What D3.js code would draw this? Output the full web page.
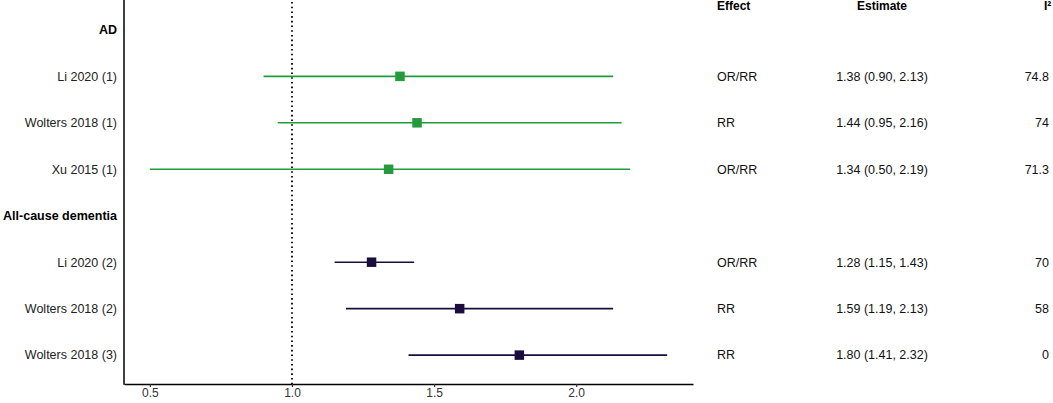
<!DOCTYPE html>
<html>
<head>
<meta charset="utf-8">
<script src="https://cdn.jsdelivr.net/npm/d3@7"></script>
<style>
  html, body { margin: 0; padding: 0; background: #fff; }
  svg { display: block; font-family: "Liberation Sans", Arial, sans-serif; }
</style>
</head>
<body>
<svg id="chart" width="1053" height="403"></svg>
<script>
// ---- data ----
const rowLabels = ["AD", "Li 2020 (1)", "Wolters 2018 (1)", "Xu 2015 (1)",
                   "All-cause dementia", "Li 2020 (2)", "Wolters 2018 (2)", "Wolters 2018 (3)"];
const headerRows = ["AD", "All-cause dementia"];
const studies = ["Li 2020 (1)", "Wolters 2018 (1)", "Xu 2015 (1)",
                 "Li 2020 (2)", "Wolters 2018 (2)", "Wolters 2018 (3)"];
const groups = ["AD", "AD", "AD", "All-cause", "All-cause", "All-cause"];
const estimates = [1.38, 1.44, 1.34, 1.28, 1.59, 1.80];
const lower = [0.90, 0.95, 0.50, 1.15, 1.19, 1.41];
const upper = [2.13, 2.16, 2.19, 1.43, 2.13, 2.32];
const effects = ["OR/RR", "RR", "OR/RR", "OR/RR", "RR", "RR"];
const i2 = ["74.8", "74", "71.3", "70", "58", "0"];
const xTicks = [0.5, 1.0, 1.5, 2.0];
const groupColors = { "AD": "#239b3d", "All-cause": "#1b0c3e" };

const rows = studies.map((s, i) => ({
  study: s, group: groups[i], est: estimates[i], lo: lower[i], hi: upper[i],
  effect: effects[i], i2: i2[i]
}));

const svg = d3.select("#chart");
const pLeft = 124, pRight = 693, pTop = 2, pBottom = 384;

const x = d3.scaleLinear().domain([0.409, 2.411]).range([pLeft, pRight]);
const y = d3.scalePoint().domain(rowLabels).range([pTop, pBottom - 1]).padding(0.6);

// dotted reference line
svg.append("line")
  .attr("x1", x(1)).attr("x2", x(1))
  .attr("y1", 2).attr("y2", pBottom)
  .attr("stroke", "#000").attr("stroke-width", 1.8)
  .attr("stroke-dasharray", "1.6,3.1");

// CI lines
svg.append("g").selectAll("line").data(rows).join("line")
  .attr("x1", d => x(d.lo)).attr("x2", d => x(d.hi))
  .attr("y1", d => y(d.study)).attr("y2", d => y(d.study))
  .attr("stroke", d => groupColors[d.group]).attr("stroke-width", 1.6);

// point markers
const ms = 9.5;
svg.append("g").selectAll("rect").data(rows).join("rect")
  .attr("x", d => x(d.est) - ms / 2).attr("y", d => y(d.study) - ms / 2)
  .attr("width", ms).attr("height", ms)
  .attr("fill", d => groupColors[d.group]);

// axes
const xAxis = svg.append("g").attr("transform", `translate(0,${pBottom})`)
  .call(d3.axisBottom(x).tickValues(xTicks).tickFormat(d3.format(".1f")).tickSize(3).tickSizeOuter(0));
xAxis.select(".domain").attr("stroke", "#000").attr("stroke-width", 1.5);
xAxis.selectAll(".tick line").attr("stroke", "#333").attr("stroke-width", 1.2);
xAxis.selectAll(".tick text").attr("font-size", 12).attr("fill", "#333")
  .attr("font-family", "Liberation Sans, Arial, sans-serif").attr("dy", "0.6em");

svg.append("line").attr("x1", pLeft).attr("x2", pLeft).attr("y1", 0).attr("y2", pBottom + 0.75)
  .attr("stroke", "#000").attr("stroke-width", 1.5);

// y labels
svg.append("g").selectAll("text").data(rowLabels).join("text")
  .attr("x", 117).attr("y", d => y(d)).attr("dy", "0.35em")
  .attr("text-anchor", "end").attr("font-size", 12.5)
  .attr("font-weight", d => headerRows.includes(d) ? "bold" : "normal")
  .attr("fill", d => headerRows.includes(d) ? "#000" : "#222")
  .text(d => d);

// table headers
const hdr = svg.append("g").attr("font-weight", "bold").attr("font-size", 12).attr("fill", "#000");
hdr.append("text").attr("x", 717).attr("y", 10).text("Effect");
hdr.append("text").attr("x", 882).attr("y", 10).attr("text-anchor", "middle").text("Estimate");
hdr.append("text").attr("x", 1044).attr("y", 10).text("I²");

// table body
const tb = svg.append("g").attr("font-size", 12.5).attr("fill", "#111");
tb.selectAll(".eff").data(rows).join("text").attr("class", "eff")
  .attr("x", 717).attr("y", d => y(d.study)).attr("dy", "0.35em").text(d => d.effect);
tb.selectAll(".est").data(rows).join("text").attr("class", "est")
  .attr("x", 882).attr("y", d => y(d.study)).attr("dy", "0.35em").attr("text-anchor", "middle")
  .text(d => `${d.est.toFixed(2)} (${d.lo.toFixed(2)}, ${d.hi.toFixed(2)})`);
tb.selectAll(".i2").data(rows).join("text").attr("class", "i2")
  .attr("x", 1049).attr("y", d => y(d.study)).attr("dy", "0.35em").attr("text-anchor", "end")
  .text(d => d.i2);
</script>
</body>
</html>
